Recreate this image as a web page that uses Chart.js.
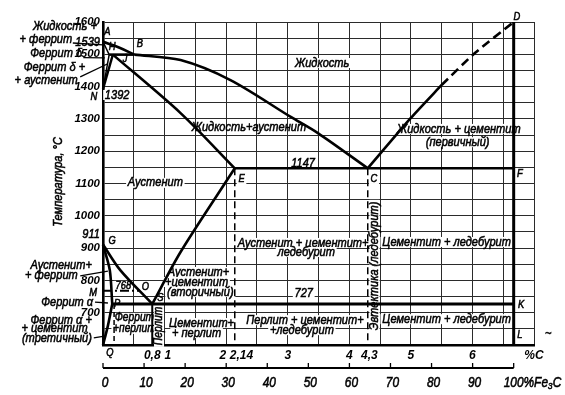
<!DOCTYPE html>
<html>
<head>
<meta charset="utf-8">
<script src="https://cdn.jsdelivr.net/npm/chart.js@4.4.1/dist/chart.umd.min.js"></script>
<style>
  html, body { margin: 0; padding: 0; background: #fff; }
</style>
</head>
<body>
<canvas id="chart" width="565" height="395"></canvas>
<script>
// axis ticks
const tempTicks = [700, 800, 900, 1000, 1100, 1200, 1300, 1400, 1500, 1600]
const carbonTicks = [0.8, 1, 2, 2.14, 3, 4, 4.3, 5, 6, 7]
const carbonTickLabels = ['0,8', '  1', '2  ', '    2,14', '3', '4', ' 4,3', '5', '6', '%C']
const fe3cTicks = [0, 10, 20, 30, 40, 50, 60, 70, 80, 90, 100]
const fe3cTickLabels = ['0', '10', '20', '30', '40', '50', '60', '70', '80', '90', '100%Fe₃C']
const FE3C_CARBON = 6.67

// phase lines, [%C, °C]
const liquidusAB = [[0, 1539], [0.25, 1522], [0.51, 1499]]
const liquidusBC = [[0.51, 1499], [1.26, 1482], [2.07, 1420], [3.05, 1306], [3.49, 1256], [4.3, 1147]]
const liquidusCD = [[4.3, 1147], [5.0, 1303], [5.5, 1405]]
const liquidusCDdashed = [[5.5, 1405], [6.04, 1504], [6.67, 1600]]
const lineAH = [[0, 1539], [0.1, 1499]]
const lineHN = [[0.1, 1499], [0, 1392]]
const lineJN = [[0.16, 1499], [0, 1392]]
const peritecticHB = [[0.1, 1499], [0.51, 1499]]
const solidusJE = [[0.16, 1499], [1.26, 1318], [2.14, 1147]]
const eutecticECF = [[2.14, 1147], [6.67, 1147]]
const lineGS = [[0, 911], [0.28, 832], [0.8, 727]]
const lineGP = [[0, 911], [0.11, 832], [0.15, 727]]
const linePQ = [[0.15, 727], [0.08, 660], [0, 600]]
const lineSE = [[0.8, 727], [1.26, 888], [2.14, 1147]]
const eutectoidPSK = [[0.15, 727], [6.67, 727]]
const curieMO = [[0, 768], [0.6, 768]]
const lineSdown = [[0.8, 727], [0.8, 600]]
const lineEdown = [[2.14, 1147], [2.14, 600]]
const lineCdown = [[4.3, 1147], [4.3, 600]]
const lineDL = [[6.67, 1600], [6.67, 600]]
const linePdown = [[0.18, 727], [0.18, 600]]

// text: [text, %C, °C, options]
const labels = [
  ['Жидкость +', -0.10, 1585, { align: 'right' }],
  ['+ феррит', -0.50, 1547, { align: 'right' }],
  ['1539', -0.05, 1538, { align: 'right' }],
  ['A', 0.07, 1569, { size: 11 }],
  ['Феррит δ', -0.34, 1504, { align: 'right' }],
  ['H', 0.15, 1523, { size: 11 }],
  ['B', 0.60, 1532, { size: 11 }],
  ['J', 0.36, 1485, { size: 11 }],
  ['Феррит δ +', -0.29, 1458, { align: 'right' }],
  ['+ аустенит', -0.41, 1420, { align: 'right' }],
  ['N', -0.15, 1368, { size: 11 }],
  ['1392', 0.23, 1374, { bg: true }],
  ['Жидкость', 3.56, 1473, { bg: true }],
  ['Жидкость+аустенит', 2.37, 1275, {}],
  ['1147', 3.25, 1163, { bg: true }],
  ['E', 2.25, 1114, { size: 11, bg: true }],
  ['C', 4.40, 1114, { size: 11, bg: true }],
  ['F', 6.77, 1129, { size: 11, bg: true }],
  ['D', 6.72, 1615, { size: 11 }],
  ['Жидкость + цементит', 5.78, 1269, { bg: true }],
  ['(первичный)', 5.76, 1228, { bg: true }],
  ['Аустенит', 0.85, 1102, { bg: true }],
  ['Температура, °C', -0.73, 1105, { rot: true }],
  ['911', -0.05, 941, { align: 'right' }],
  ['G', 0.15, 922, { size: 11 }],
  ['Аустенит+', -0.18, 848, { align: 'right' }],
  ['+ феррит', -0.41, 817, { align: 'right' }],
  ['M', -0.16, 761, { size: 11 }],
  ['768', 0.33, 783, { size: 11, bg: true }],
  ['O', 0.69, 780, { size: 11 }],
  ['S', 0.93, 745, { size: 11 }],
  ['P', 0.23, 726, { size: 11 }],
  ['Феррит α', -0.16, 733, { align: 'right' }],
  ['Феррит α +', -0.18, 677, { align: 'right' }],
  ['+ цементит', -0.25, 650, { align: 'right' }],
  ['(третичный)', -0.18, 622, { align: 'right' }],
  ['Феррит', 0.51, 684, { size: 12, bg: true }],
  ['+перлит', 0.51, 650, { size: 12, bg: true }],
  ['Перлит', 0.91, 659, { size: 12, rot: true, bg: true }],
  ['Аустенит+', 1.55, 826, { bg: true }],
  ['+цементит', 1.52, 795, { bg: true }],
  ['(вторичный)', 1.58, 764, { bg: true }],
  ['Цементит+', 1.60, 668, { bg: true }],
  ['+ перлит', 1.52, 637, { bg: true }],
  ['Аустенит + цементит+', 3.25, 916, { bg: true }],
  ['ледебурит', 3.30, 888, { bg: true }],
  ['727', 3.26, 761, { bg: true }],
  ['Перлит + цементит+', 3.28, 677, { bg: true }],
  ['+ледебурит', 3.23, 646, { bg: true }],
  ['Эвтектика (ледебурит)', 4.41, 845, { rot: true, bg: true }],
  ['Цементит + ледебурит', 5.58, 919, { bg: true }],
  ['Цементит + ледебурит', 5.58, 680, { bg: true }],
  ['K', 6.79, 724, { size: 11, bg: true }],
  ['L', 6.77, 631, { size: 11, bg: true }],
  ['~', 7.23, 637, {}],
  ['Q', 0.11, 575, { size: 11 }]
]

// leader lines from side labels into the narrow fields, [%C, °C, %C, °C]
const leaders = [
  [-0.49, 1535, 0.0, 1529],
  [-0.32, 1490, 0.03, 1489],
  [-0.37, 1430, 0.07, 1470],
  [-0.37, 814, 0.08, 829],
  [-0.13, 733, 0.08, 730],
  [-0.15, 622, 0.05, 628]
]

const FONT = '"Liberation Sans", Arial, sans-serif'
const SQUEEZE = 0.85
const INK = '#000'
const GRID = '#2b2b2b'

const toPoints = (arr) => arr.map(p => ({ x: p[0], y: p[1] }))

function line(data, extra) {
  return Object.assign({
    data: toPoints(data),
    showLine: true,
    borderColor: INK,
    borderWidth: 2.6,
    pointRadius: 0,
    tension: 0,
    fill: false,
    clip: false
  }, extra || {})
}

const datasets = [
  line(liquidusAB, { tension: 0.4 }),
  line(liquidusBC, { tension: 0.3 }),
  line(liquidusCD, { tension: 0.2 }),
  line(liquidusCDdashed, { tension: 0.2, borderDash: [9, 5] }),
  line(lineAH, { borderWidth: 1.5 }),
  line(lineHN, { borderWidth: 1.5 }),
  line(lineJN, { borderWidth: 2.4 }),
  line(peritecticHB),
  line(solidusJE, { tension: 0.3 }),
  line(eutecticECF),
  line(lineGS, { tension: 0.3 }),
  line(lineGP, { tension: 0.3 }),
  line(linePQ, { tension: 0.3 }),
  line(lineSE, { tension: 0.3 }),
  line(eutectoidPSK, { borderWidth: 3 }),
  line(curieMO, { borderWidth: 2, borderDash: [9, 3, 2, 3] }),
  line(lineSdown, { borderWidth: 2 }),
  line(lineEdown, { borderWidth: 1.5, borderDash: [7, 4] }),
  line(lineCdown, { borderWidth: 1.5, borderDash: [7, 4] }),
  line(lineDL, { borderWidth: 3 }),
  line(linePdown, { borderWidth: 1.5, borderDash: [5, 3] })
]

function drawText(ctx, text, px, py, o) {
  ctx.save()
  ctx.translate(px, py)
  if (o.rot) ctx.rotate(-Math.PI / 2)
  ctx.scale(SQUEEZE, 1)
  ctx.font = 'italic ' + (o.size || 13) + 'px ' + FONT
  ctx.textAlign = o.align || 'center'
  ctx.textBaseline = 'middle'
  if (o.bg) {
    const w = ctx.measureText(text).width
    const x0 = ctx.textAlign === 'right' ? -w : ctx.textAlign === 'left' ? 0 : -w / 2
    ctx.fillStyle = '#fff'
    ctx.fillRect(x0 - 2, -5, w + 4, 10)
  }
  ctx.fillStyle = INK
  ctx.strokeStyle = INK
  ctx.lineWidth = 0.55
  ctx.fillText(text, 0, 0)
  ctx.strokeText(text, 0, 0)
  ctx.restore()
}

const textPlugin = {
  id: 'diagramText',
  beforeDatasetsDraw(chart) {
    const ctx = chart.ctx
    const x = chart.scales.x
    const y = chart.scales.y
    ctx.save()
    ctx.strokeStyle = INK
    ctx.lineWidth = 1.3
    leaders.forEach(l => {
      ctx.beginPath()
      ctx.moveTo(x.getPixelForValue(l[0]), y.getPixelForValue(l[1]))
      ctx.lineTo(x.getPixelForValue(l[2]), y.getPixelForValue(l[3]))
      ctx.stroke()
    })
    labels.forEach(([text, c, t, o]) => drawText(ctx, text, x.getPixelForValue(c), y.getPixelForValue(t), o))
    ctx.restore()
  },
  afterDraw(chart) {
    // second scale under the plot: % Fe3C
    const ctx = chart.ctx
    const x = chart.scales.x
    const base = chart.chartArea.bottom + 23
    const px = p => x.getPixelForValue(p * FE3C_CARBON / 100)
    ctx.save()
    ctx.strokeStyle = INK
    ctx.lineWidth = 2
    ctx.beginPath()
    ctx.moveTo(px(0), base)
    ctx.lineTo(px(100), base)
    ctx.stroke()
    ctx.lineWidth = 1.3
    fe3cTicks.forEach(p => {
      ctx.beginPath()
      ctx.moveTo(px(p), base)
      ctx.lineTo(px(p), base - 5)
      ctx.stroke()
    })
    fe3cTicks.forEach((p, i) => {
      const last = i === fe3cTicks.length - 1
      drawText(ctx, fe3cTickLabels[i], last ? px(p) - 10 : px(p) + 2, base + 15,
        { size: 14, align: last ? 'left' : 'center' })
    })
    ctx.restore()
  }
}

new Chart(document.getElementById('chart'), {
  type: 'scatter',
  data: { datasets },
  options: {
    responsive: false,
    animation: false,
    devicePixelRatio: 1,
    layout: { padding: { top: 22, right: 31, bottom: 29, left: 0 } },
    plugins: { legend: { display: false }, tooltip: { enabled: false } },
    scales: {
      x: {
        type: 'linear', min: 0, max: 7, position: 'bottom',
        ticks: { display: false, stepSize: 0.5 },
        grid: { color: GRID, lineWidth: 1, drawTicks: false },
        border: { color: INK, width: 2.6 },
        afterFit: s => { s.height = 0 }
      },
      xc: {
        type: 'linear', min: 0, max: 7, position: 'bottom',
        afterBuildTicks: s => { s.ticks = carbonTicks.map(v => ({ value: v })) },
        ticks: {
          autoSkip: false, maxRotation: 0, padding: 3, color: INK,
          font: { family: FONT, size: 12, style: 'italic', weight: 'bold' },
          callback: (v, i) => carbonTickLabels[i]
        },
        grid: { display: false, drawTicks: false },
        border: { display: false },
        afterFit: s => { s.height = 21 }
      },
      y: {
        type: 'linear', min: 600, max: 1600,
        ticks: {
          stepSize: 50, autoSkip: false, padding: 3, color: INK,
          font: { family: FONT, size: 11.5, style: 'italic', weight: 'bold' },
          callback: v => tempTicks.includes(v) ? String(v) : ''
        },
        grid: { color: GRID, lineWidth: 1, drawTicks: false },
        border: { color: INK, width: 2.6 },
        afterFit: s => { s.width = 103 }
      }
    }
  },
  plugins: [textPlugin]
})
</script>
</body>
</html>
